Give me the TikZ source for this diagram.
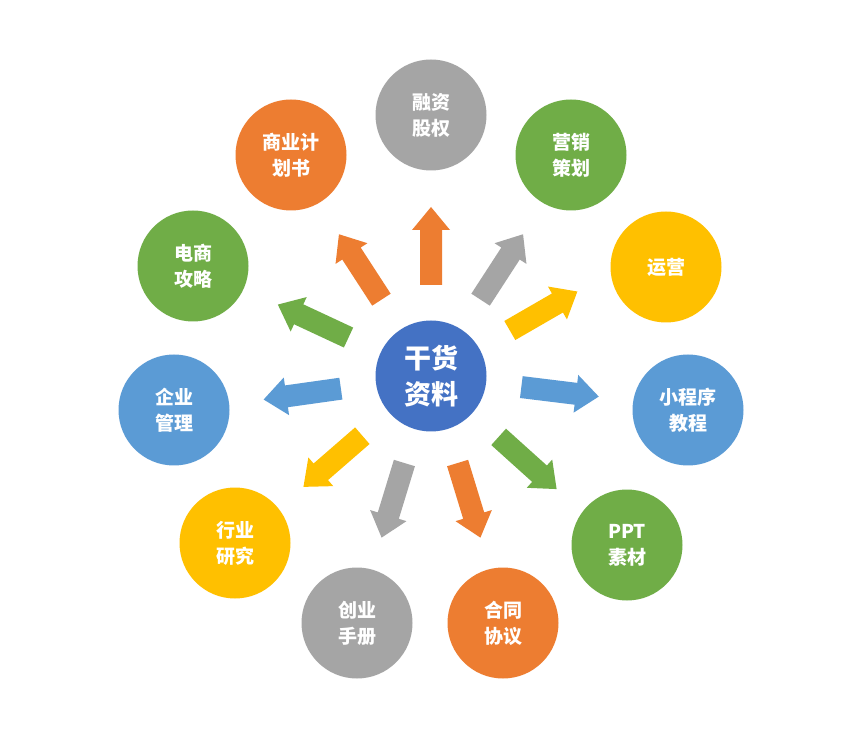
\documentclass[tikz,border=0pt]{standalone}
\usetikzlibrary{calc}
\usepackage{fontspec}
\setmainfont{Noto Sans CJK SC}
\definecolor{cgray}{HTML}{A5A5A5}
\definecolor{cgreen}{HTML}{70AD47}
\definecolor{cyellow}{HTML}{FFC000}
\definecolor{cblue}{HTML}{5B9BD5}
\definecolor{corange}{HTML}{ED7D31}
\definecolor{ccenter}{HTML}{4472C4}
\tikzset{
  bub/.style={circle,minimum size=111pt,inner sep=0pt,text=white,font=\fontsize{19}{26}\selectfont\bfseries,align=center},
  barrow/.pic={\fill (-39,-11) -- (16,-11) -- (16,-19) -- (39,0) -- (16,19) -- (16,11) -- (-39,11) -- cycle;}
}
\begin{document}
\begin{tikzpicture}[x=1pt,y=1pt]
\fill[white] (0,0) rectangle (864,734);
\useasboundingbox (0,0) rectangle (864,734);
\coordinate (c) at (431,358);
\node[bub,fill=ccenter,font=\fontsize{27}{36}\selectfont\bfseries] (center) at (c) {干货\\资料};
\node[bub,fill=cgray] (n1) at (431,619) {融资\\股权};
\node[bub,fill=cgreen] (n2) at (571,579) {营销\\策划};
\node[bub,fill=cyellow] (n3) at (666,467) {运营};
\node[bub,fill=cblue] (n4) at (688,324) {小程序\\教程};
\node[bub,fill=cgreen] (n5) at (627,189) {PPT\\素材};
\node[bub,fill=corange] (n6) at (503,111) {合同\\协议};
\node[bub,fill=cgray] (n7) at (357,111) {创业\\手册};
\node[bub,fill=cyellow] (n8) at (235,191) {行业\\研究};
\node[bub,fill=cblue] (n9) at (174,324) {企业\\管理};
\node[bub,fill=cgreen] (n10) at (193,468) {电商\\攻略};
\node[bub,fill=corange] (n11) at (291,579) {商业计\\划书};
\foreach \a/\col in {90/corange,57/cgray,123/corange,155/cgreen,30/cyellow,188/cblue,-7/cblue,-42/cgreen,-73/corange,-107/cgray,-139/cyellow}
  \pic[fill=\col,rotate=\a] at ($(c)+(\a:130)$) {barrow};
\end{tikzpicture}
\end{document}
